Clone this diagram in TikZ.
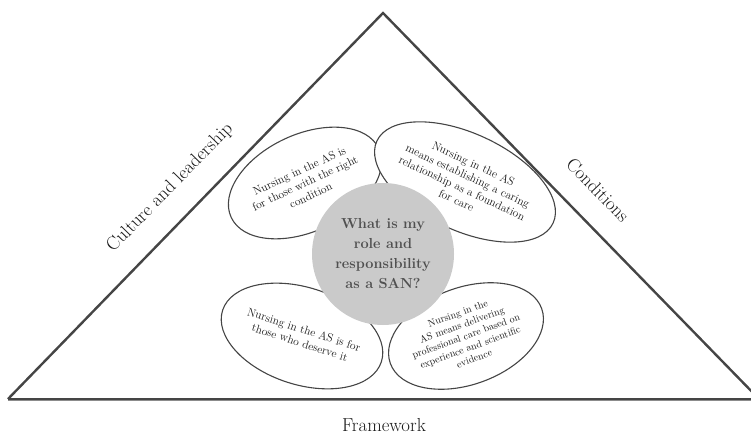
\documentclass[tikz,border=0pt]{standalone}
\usepackage{fontspec}
\usetikzlibrary{shapes.geometric}
\definecolor{edgegray}{HTML}{454545}
\definecolor{discgray}{HTML}{CACACA}
\definecolor{asktext}{HTML}{505050}
\tikzset{
  petal/.style={
    ellipse, draw=edgegray, line width=1.1pt, fill=white,
    inner sep=0pt, minimum width=153pt, minimum height=97pt,
    align=center, text=black!90, font=\fontsize{11.5}{13.5}\selectfont
  },
  side label/.style={
    font=\fontsize{18.8}{21}\selectfont, text=black!90
  }
}

\begin{document}
\begin{tikzpicture}[x=1pt,y=1pt]
\useasboundingbox (0,0) rectangle (751,439);
\coordinate (apex) at (383,426);
\coordinate (left) at (8,40);
\coordinate (right) at (759,40);
% triangle
\draw[black!45, line width=1.6pt] ([yshift=-1.4pt]left) -- ([yshift=-1.4pt]right);
\draw[edgegray, line width=2.4pt, line join=miter] (left) -- (apex) -- (right);
\draw[edgegray, line width=2.6pt] (left) -- (right);
% petals
\node[petal, rotate=25] (petalTL) at (305,256) {Nursing in the AS is\\for those with the right\\condition};
\node[petal, rotate=-25] (petalTR) at (465,257) {Nursing in the AS\\means establishing a caring\\relationship as a foundation\\for care};
\node[petal, rotate=-18] (petalBL) at (302,103) {Nursing in the AS is for\\those who deserve it};
\node[petal, rotate=20, font=\fontsize{10}{12}\selectfont] (petalBR) at (466,103) {Nursing in the\\AS means delivering\\professional care based on\\experience and scientific\\evidence};
% centre
\node[circle, fill=discgray, minimum size=142pt, inner sep=0pt, align=center,
  text=asktext, font=\fontsize{14.5}{20}\bfseries\selectfont] (ask) at (383,185)
  {What is my\\role and\\responsibility\\as a SAN?};
% labels
\node[side label, rotate=45.7] (culture) at (170,251) {Culture and leadership};
\node[side label, rotate=-46] (conditions) at (598,249) {Conditions};
\node[side label] (framework) at (384,14) {Framework};
\end{tikzpicture}
\end{document}
